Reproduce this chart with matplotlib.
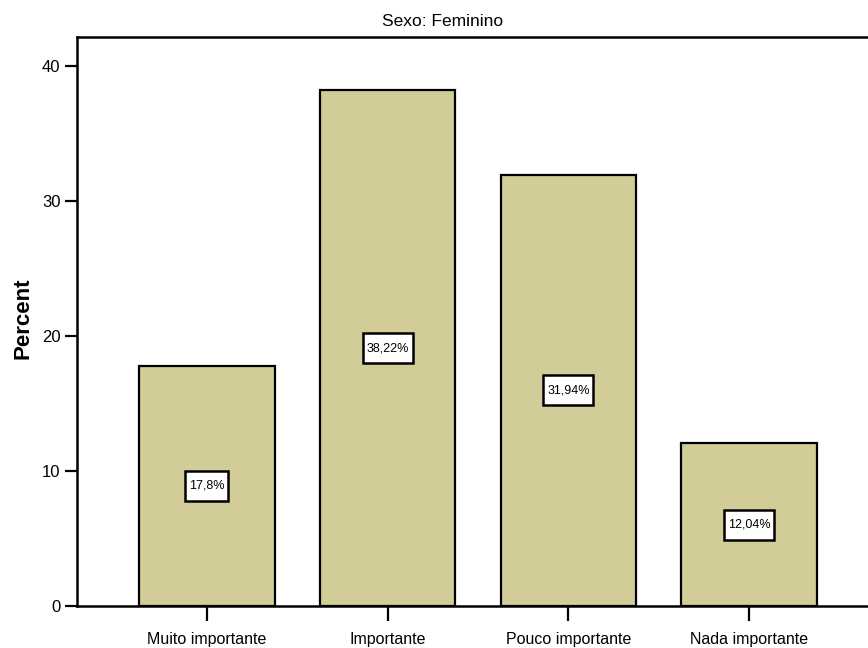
import matplotlib
matplotlib.use("Agg")
import matplotlib.pyplot as plt
from matplotlib.path import Path

categories = ["Muito importante", "Importante", "Pouco importante", "Nada importante"]
percents = [17.8, 38.22, 31.94, 12.04]
value_labels = ["17,8%", "38,22%", "31,94%", "12,04%"]
yticks = [0, 10, 20, 30, 40]
panel_title = "Sexo: Feminino"
ylabel = "Percent"

plt.rcParams['font.family'] = ['Liberation Sans', 'DejaVu Sans']

W, H = 868, 648
fig = plt.figure(figsize=(W / 100, H / 100), dpi=100)
ax = fig.add_axes([77 / W, 1 - 606 / H, (879 - 77) / W, (606 - 37) / H])

x = list(range(len(categories)))
ax.bar(x, percents, width=0.75, color="#D2CD98", edgecolor="black", linewidth=1.6, zorder=2)


class PadBox:
    def __init__(self, padx, pady):
        self.padx = padx
        self.pady = pady

    def __call__(self, x0, y0, width, height, mutation_size):
        px = self.padx * mutation_size
        py = self.pady * mutation_size
        x0 -= px
        y0 -= py
        x1 = x0 + width + 2 * px
        y1 = y0 + height + 2 * py
        return Path([(x0, y0), (x1, y0), (x1, y1), (x0, y1), (x0, y0)], closed=True)


for xi, v, lab in zip(x, percents, value_labels):
    ax.text(xi, v / 2, lab, ha="center", va="center", fontsize=9, zorder=3,
            bbox=dict(boxstyle=PadBox(0.3, 0.72), facecolor="white",
                      edgecolor="black", linewidth=1.8))

ax.set_xlim(-0.718, 3.718)
ax.set_ylim(0, 42.15)
ax.set_xticks(x)
ax.set_xticklabels(categories, fontsize=11.5)
ax.set_yticks(yticks)
ax.set_yticklabels([str(t) for t in yticks], fontsize=12)
ax.tick_params(axis="y", direction="out", length=9, width=1.6, pad=3)
ax.tick_params(axis="x", direction="out", length=11, width=1.6, pad=8)

for s in ["left", "bottom", "top", "right"]:
    ax.spines[s].set_linewidth(1.8)

ax.set_ylabel(ylabel, fontsize=16, fontweight="bold", va="center")
ax.yaxis.set_label_coords(-(77 - 23) / 802, (606 - 318) / 569)
fig.text(443 / W, 1 - 22 / H, panel_title, ha="center", va="center", fontsize=12.5)

fig.savefig("out.png", dpi=100)
